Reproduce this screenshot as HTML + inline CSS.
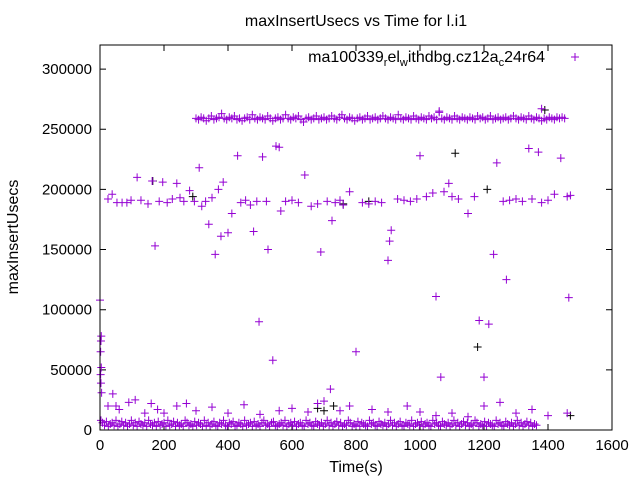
<!DOCTYPE html>
<html><head><meta charset="utf-8"><style>
body{margin:0;background:#fff;}
svg{display:block;font-family:"Liberation Sans",sans-serif;}
</style></head><body>
<svg id="chart" width="640" height="480">
<rect width="640" height="480" fill="#fff"/>
<text x="356" y="26" text-anchor="middle" font-size="16">maxInsertUsecs vs Time for l.i1</text>
<g id="ticks"></g>
<g id="marks"></g>
<rect x="100" y="45" width="512" height="385" fill="none" stroke="#000" stroke-width="1"/>
<text x="356" y="472" text-anchor="middle" font-size="16">Time(s)</text>
<text transform="translate(18,237) rotate(-90)" text-anchor="middle" font-size="16">maxInsertUsecs</text>
<g>
<text x="545" y="62" text-anchor="end" font-size="16">ma100339<tspan font-size="11" dy="4">r</tspan><tspan dy="-4">el</tspan><tspan font-size="11" dy="4">w</tspan><tspan dy="-4">ithdbg.cz12a</tspan><tspan font-size="11" dy="4">c</tspan><tspan dy="-4">24r64</tspan></text>
<path d="M571 57h8M575 53v8" stroke="#9400d3" stroke-width="1"/>
</g>
</svg>
<script>
const xTicks=[0,200,400,600,800,1000,1200,1400,1600];
const yTicks=[0,50000,100000,150000,200000,250000,300000];
const lowT=[3,8,14,20,26,32,38,44,50,56,62,68,74,80,86,92,98,104,110,116,122,128,134,140,146,152,158,164,170,176,182,188,194,200,206,212,218,224,230,236,242,248,254,260,266,272,278,284,290,296,302,308,314,320,326,332,338,344,350,356,362,368,374,380,386,392,398,404,410,416,422,428,434,440,446,452,458,464,470,476,482,488,494,500,506,512,518,524,530,536,542,548,554,560,566,572,578,584,590,596,602,608,614,620,626,632,638,644,650,656,662,668,674,680,686,692,698,704,710,716,722,728,734,740,746,752,758,764,770,776,782,788,794,800,806,812,818,824,830,836,842,848,854,860,866,872,878,884,890,896,902,908,914,920,926,932,938,944,950,956,962,968,974,980,986,992,998,1004,1010,1016,1022,1028,1034,1040,1046,1052,1058,1064,1070,1076,1082,1088,1094,1100,1106,1112,1118,1124,1130,1136,1142,1148,1154,1160,1166,1172,1178,1184,1190,1196,1202,1208,1214,1220,1226,1232,1238,1244,1250,1256,1262,1268,1274,1280,1286,1292,1298,1304,1310,1316,1322,1328,1334,1340,1346,1352,1358,1364,1370,1376,1382,1388,1394,1400,1406,1412,1418,1424,1430,1436,1442,1448,1454,1460,1466];
const lowV=[8000,6000,4000,7000,3000,5000,6000,4000,8000,3000,5000,7000,4000,6000,3000,5000,8000,4000,6000,3000,7000,5000,4000,6000,3000,8000,5000,4000,6000,3000,7000,4000,5000,6000,3000,8000,4000,5000,7000,3000,6000,4000,5000,3000,8000,6000,4000,5000,3000,7000,4000,6000,5000,3000,8000,4000,6000,3000,5000,7000,4000,3000,6000,5000,8000,4000,3000,6000,5000,7000,3000,4000,6000,5000,3000,8000,4000,5000,6000,3000,7000,4000,5000,3000,6000,8000,4000,5000,3000,6000,7000,4000,3000,5000,6000,4000,8000,3000,5000,6000,4000,7000,3000,5000,6000,4000,3000,8000,5000,6000,4000,3000,7000,5000,4000,6000,3000,5000,8000,4000,6000,3000,5000,7000,4000,6000,3000,5000,4000,8000,6000,3000,5000,4000,7000,3000,6000,5000,4000,3000,8000,5000,6000,4000,3000,7000,5000,4000,6000,3000,5000,8000,4000,6000,3000,5000,7000,4000,3000,6000,5000,4000,8000,3000,5000,6000,4000,7000,3000,5000,6000,4000,3000,8000,5000,6000,4000,3000,7000,5000,4000,6000,3000,5000,8000,4000,6000,3000,5000,7000,4000,6000,3000,5000,4000,8000,6000,3000,5000,4000,7000,3000,6000,5000,4000,3000,8000,5000,6000,4000,3000,7000,5000,4000,6000,3000,5000,8000,4000,6000,3000,5000,7000,4000,6000,3000,5000,4000];
const highT=[300,308,316,324,332,340,348,356,364,372,380,388,396,404,412,420,428,436,444,452,460,468,476,484,492,500,508,516,524,532,540,548,556,564,572,580,588,596,604,612,620,628,636,644,652,660,668,676,684,692,700,708,716,724,732,740,748,756,764,772,780,788,796,804,812,820,828,836,844,852,860,868,876,884,892,900,908,916,924,932,940,948,956,964,972,980,988,996,1004,1012,1020,1028,1036,1044,1052,1060,1068,1076,1084,1092,1100,1108,1116,1124,1132,1140,1148,1156,1164,1172,1180,1188,1196,1204,1212,1220,1228,1236,1244,1252,1260,1268,1276,1284,1292,1300,1308,1316,1324,1332,1340,1348,1356,1364,1372,1380,1388,1396,1404,1412,1420,1428,1436,1444,1452,1460,1466];
const highV=[259000,258000,260000,259000,257000,259000,261000,258000,259000,260000,263000,259000,258000,260000,259000,261000,258000,259000,257000,259000,260000,258000,262000,259000,258000,260000,259000,258000,261000,259000,257000,259000,260000,258000,259000,262000,259000,258000,260000,259000,261000,258000,256000,259000,260000,258000,259000,261000,258000,259000,260000,258000,259000,261000,259000,258000,260000,262000,259000,258000,260000,259000,257000,259000,260000,258000,259000,261000,258000,259000,260000,258000,259000,261000,259000,258000,260000,259000,258000,262000,259000,258000,260000,259000,258000,261000,259000,258000,260000,259000,258000,261000,259000,260000,258000,264000,259000,258000,260000,259000,258000,261000,259000,258000,260000,259000,258000,260000,259000,258000,261000,259000,260000,258000,259000,261000,258000,259000,260000,258000,259000,260000,258000,259000,261000,259000,258000,260000,259000,258000,261000,259000,258000,260000,259000,257000,259000,258000,260000,259000,258000,260000,259000,260000,259000];
const midT=[0,4,3,2,4,2,3,5,25,38,53,69,84,97,116,128,150,163,172,185,196,210,226,240,250,262,280,295,310,318,330,340,350,360,370,378,385,400,412,430,440,455,470,480,490,497,508,520,525,540,550,560,565,580,600,620,640,660,680,690,710,725,735,750,760,780,800,820,840,860,880,900,905,910,930,950,970,990,1000,1020,1040,1050,1065,1075,1090,1100,1120,1150,1170,1185,1200,1215,1230,1240,1260,1270,1280,1300,1320,1340,1350,1370,1380,1400,1420,1440,1460,1465,1470,1060,1380,25,40,50,60,90,110,140,160,180,200,240,270,300,350,400,450,500,560,600,650,680,700,720,750,780,850,900,960,1000,1050,1100,1150,1200,1250,1300,1350,1400,1460];
const midV=[108000,78000,74000,65000,52000,46000,39000,31000,192000,196000,189000,189000,189000,191000,210000,191000,188000,207000,153000,190000,206000,189000,192000,205000,193000,190000,199000,190000,218000,186000,190000,171000,193000,146000,200000,161000,206000,164000,180000,228000,189000,191000,187000,165000,190000,90000,227000,190000,150000,58000,236000,235000,182000,190000,191000,189000,212000,186000,188000,148000,190000,174000,189000,191000,187000,198000,65000,189000,188000,190000,189000,141000,157000,166000,192000,191000,190000,192000,228000,194000,197000,111000,44000,198000,205000,194000,192000,180000,194000,91000,44000,88000,146000,222000,190000,125000,191000,192000,190000,234000,192000,231000,189000,191000,196000,226000,194000,110000,195000,265000,267000,20000,30000,20000,17000,23000,25000,14000,22000,17000,14000,20000,22000,16000,19000,14000,21000,13000,16000,18000,15000,22000,24000,34000,16000,20000,17000,15000,20000,15000,12000,14000,11000,20000,23000,14000,17000,12000,14000];
const blackT=[165,290,680,730,760,840,1110,1210,1390,1470,700,1180];
const blackV=[207000,194000,18000,20000,188000,190000,230000,200000,266000,12000,16000,69000];

const X0=100,X1=612,Y0=430,Y1=45,XMAX=1600,YMAX=320000;
function sx(v){return X0+v/XMAX*(X1-X0);}
function sy(v){return Y0-v/YMAX*(Y0-Y1);}
const NS="http://www.w3.org/2000/svg";
const tg=document.getElementById('ticks'),mg=document.getElementById('marks');
function mk(tag,attrs,parent){const e=document.createElementNS(NS,tag);for(const k in attrs)e.setAttribute(k,attrs[k]);parent.appendChild(e);return e;}
xTicks.forEach(v=>{
  const x=sx(v);
  const t=mk('path',{d:`M${x} ${Y0}v-6M${x} ${Y1}v6`,stroke:'#000','stroke-width':1},tg);
  
  
  const l=mk('text',{x:x,y:Y0+20,'text-anchor':'middle','font-size':15},tg);
  l.textContent=v;
  
  
});
yTicks.forEach(v=>{
  const y=sy(v);
  const t=mk('path',{d:`M${X0} ${y}h6M${X1} ${y}h-6`,stroke:'#000','stroke-width':1},tg);
  
  
  const l=mk('text',{x:X0-8,y:y+5,'text-anchor':'end','font-size':15},tg);
  l.textContent=v;
  
  
});
function plot(T,V,color,name){
  let d='';
  for(let i=0;i<T.length;i++){const x=sx(T[i]),y=sy(V[i]);d+=`M${x-4} ${y}h8M${x} ${y-4}v8`;}
  const p=mk('path',{d:d,stroke:color,'stroke-width':1,fill:'none'},mg);
  
  
}
plot(blackT,blackV,'#000','series-black-points');
plot(lowT,lowV,'#9400d3','series-low-band-points');
plot(highT,highV,'#9400d3','series-high-band-points');
plot(midT,midV,'#9400d3','series-scatter-points');
</script>
</body></html>
